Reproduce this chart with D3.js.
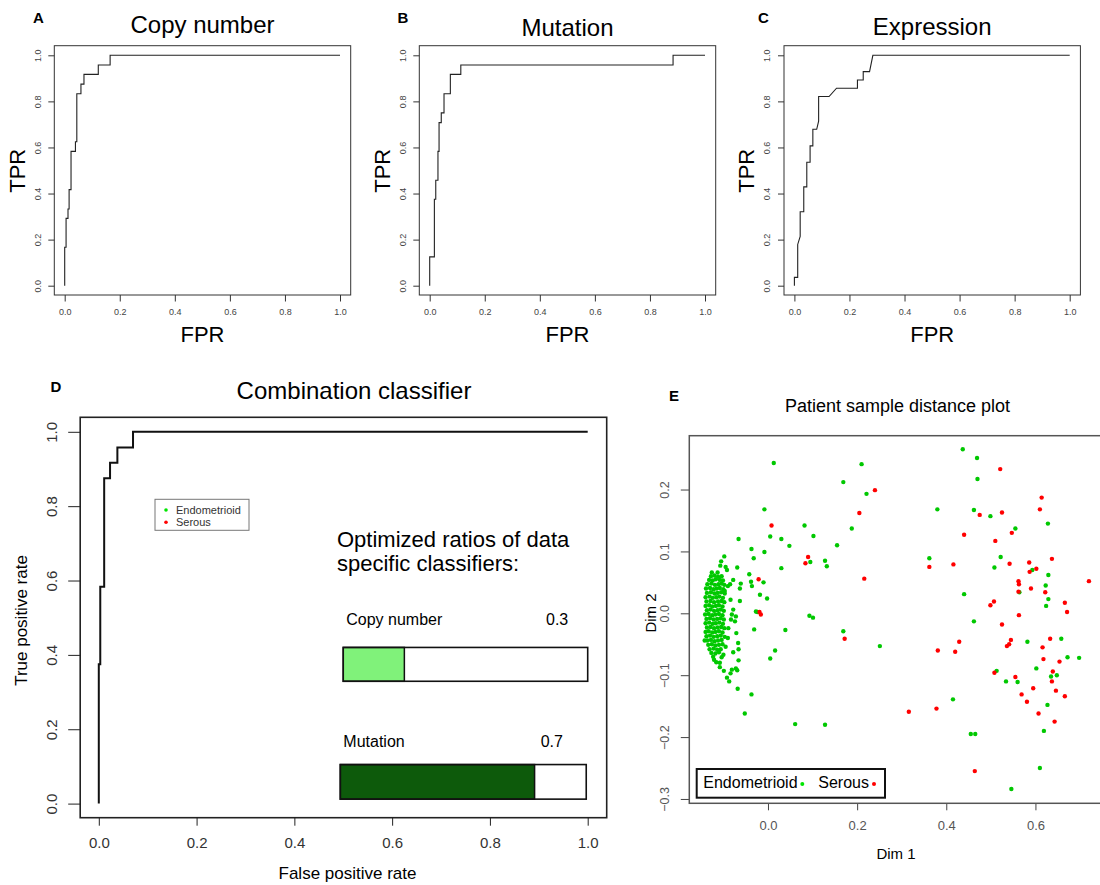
<!DOCTYPE html>
<html><head><meta charset="utf-8">
<script src="https://cdn.jsdelivr.net/npm/d3@7"></script>
<style>body{margin:0;background:#fff}svg{display:block}</style>
</head><body>
<svg id="c" width="1100" height="885"></svg>
<script>
// ---------------- DATA ----------------
const rocTicks = [0, 0.2, 0.4, 0.6, 0.8, 1.0];

// Panel A: Copy number ROC (vertices of the step curve)
const copyFPR = [0, 0, 0.005, 0.005, 0.012, 0.012, 0.016, 0.016, 0.023, 0.023, 0.039, 0.039, 0.044, 0.044, 0.059, 0.059, 0.070, 0.070, 0.122, 0.122, 0.165, 0.165, 1];
const copyTPR = [0, 0.167, 0.167, 0.292, 0.292, 0.333, 0.333, 0.417, 0.417, 0.583, 0.583, 0.625, 0.625, 0.833, 0.833, 0.875, 0.875, 0.917, 0.917, 0.958, 0.958, 1, 1];

// Panel B: Mutation ROC
const mutFPR = [0, 0, 0.017, 0.017, 0.022, 0.022, 0.030, 0.030, 0.034, 0.034, 0.042, 0.042, 0.052, 0.052, 0.075, 0.075, 0.113, 0.113, 0.884, 0.884, 1];
const mutTPR = [0, 0.125, 0.125, 0.375, 0.375, 0.458, 0.458, 0.583, 0.583, 0.708, 0.708, 0.750, 0.750, 0.833, 0.833, 0.917, 0.917, 0.958, 0.958, 1, 1];

// Panel C: Expression ROC
const expFPR = [0, 0, 0.012, 0.012, 0.021, 0.021, 0.034, 0.034, 0.045, 0.045, 0.057, 0.057, 0.067, 0.067, 0.081, 0.088, 0.088, 0.126, 0.153, 0.229, 0.229, 0.250, 0.250, 0.273, 0.285, 1];
const expTPR = [0, 0.036, 0.036, 0.179, 0.214, 0.321, 0.321, 0.429, 0.429, 0.536, 0.536, 0.607, 0.607, 0.679, 0.679, 0.714, 0.821, 0.821, 0.857, 0.857, 0.893, 0.893, 0.929, 0.929, 1, 1];

// Panel D: Combination classifier ROC
const combFPR = [0, 0, 0.003, 0.003, 0.011, 0.011, 0.023, 0.023, 0.038, 0.038, 0.070, 0.070, 1];
const combTPR = [0, 0.375, 0.375, 0.583, 0.583, 0.875, 0.875, 0.917, 0.917, 0.958, 0.958, 1, 1];

// Optimized ratios
const ratioNames = ["Copy number", "Mutation"];
const ratioLabels = ["0.3", "0.7"];
const ratioFill = [0.25, 0.79];          // filled fraction of each bar as drawn
const ratioColors = ["#80f27a", "#0d5a0b"];

// Panel E: sample distance plot
const eXTicks = [0, 0.2, 0.4, 0.6];
const eYTicks = [-0.3, -0.2, -0.1, 0, 0.1, 0.2];
const groupNames = ["Endometrioid", "Serous"];

const endoCluster = [
 [-0.128,0.060],[-0.120,0.061],[-0.112,0.059],[-0.104,0.060],
 [-0.132,0.054],[-0.124,0.053],[-0.117,0.055],[-0.108,0.054],[-0.101,0.053],
 [-0.136,0.047],[-0.127,0.048],[-0.119,0.046],[-0.111,0.047],[-0.104,0.048],[-0.098,0.046],
 [-0.139,0.040],[-0.130,0.041],[-0.122,0.039],[-0.115,0.040],[-0.108,0.041],[-0.100,0.039],
 [-0.137,0.033],[-0.128,0.034],[-0.120,0.032],[-0.113,0.033],[-0.105,0.034],[-0.097,0.032],
 [-0.140,0.026],[-0.131,0.027],[-0.124,0.025],[-0.116,0.026],[-0.109,0.027],[-0.101,0.025],
 [-0.138,0.019],[-0.129,0.020],[-0.121,0.018],[-0.112,0.019],[-0.104,0.020],[-0.098,0.018],
 [-0.140,0.012],[-0.132,0.013],[-0.125,0.011],[-0.117,0.012],[-0.110,0.013],[-0.102,0.011],
 [-0.137,0.005],[-0.129,0.006],[-0.121,0.004],[-0.113,0.005],[-0.106,0.006],[-0.099,0.004],
 [-0.141,-0.002],[-0.133,-0.001],[-0.125,-0.003],[-0.118,-0.002],[-0.110,-0.001],[-0.102,-0.003],
 [-0.138,-0.009],[-0.130,-0.008],[-0.122,-0.010],[-0.114,-0.009],[-0.106,-0.008],[-0.099,-0.010],
 [-0.140,-0.016],[-0.132,-0.015],[-0.124,-0.017],[-0.117,-0.016],[-0.109,-0.015],[-0.101,-0.017],
 [-0.137,-0.023],[-0.129,-0.022],[-0.121,-0.024],[-0.113,-0.023],[-0.105,-0.022],[-0.098,-0.024],
 [-0.140,-0.030],[-0.133,-0.029],[-0.125,-0.031],[-0.118,-0.030],[-0.110,-0.029],[-0.102,-0.031],
 [-0.138,-0.037],[-0.130,-0.036],[-0.122,-0.038],[-0.114,-0.037],[-0.106,-0.036],[-0.097,-0.038],
 [-0.136,-0.044],[-0.128,-0.043],[-0.120,-0.045],[-0.112,-0.044],[-0.104,-0.043],
 [-0.134,-0.051],[-0.126,-0.050],[-0.118,-0.052],[-0.110,-0.051],[-0.102,-0.050],
 [-0.131,-0.058],[-0.122,-0.057],[-0.114,-0.059],[-0.106,-0.058],
 [-0.127,-0.064],[-0.118,-0.065],[-0.110,-0.063]
];
const endoScatter = [
 [0.013,0.243],[0.210,0.241],[0.169,0.212],[0.221,0.193],[-0.008,0.168],[0.082,0.142],[0.188,0.137],
 [0.102,0.125],[0.005,0.124],[0.030,0.120],[-0.066,0.120],[0.048,0.109],[0.155,0.110],[-0.037,0.104],
 [-0.008,0.099],[-0.032,0.089],[-0.098,0.092],[0.128,0.085],[0.095,0.083],[0.132,0.076],[0.030,0.073],
 [-0.069,0.074],[-0.042,0.063],[-0.061,0.048],[-0.038,0.051],[-0.036,0.044],[-0.010,0.050],[-0.078,0.054],
 [-0.063,0.040],[-0.018,0.030],[-0.002,0.024],[-0.063,0.020],[-0.027,0.003],[-0.024,0.002],
 [-0.105,0.084],[-0.107,0.077],[-0.095,0.075],[-0.092,0.070],[-0.126,0.066],[-0.113,0.066],
 [-0.085,0.047],[-0.090,0.044],[-0.097,0.036],[-0.084,0.022],[-0.078,0.006],[-0.081,-0.002],
 [-0.072,-0.005],[-0.083,-0.010],[-0.074,-0.013],[-0.089,-0.024],
 [-0.142,-0.044],[-0.090,-0.040],[-0.095,-0.054],[-0.100,-0.067],[-0.123,-0.070],[-0.121,-0.075],
 [-0.116,-0.079],[-0.104,-0.071],[-0.108,-0.080],[-0.069,-0.092],
 [0.437,0.265],[0.469,0.251],[0.470,0.217],[0.380,0.168],[0.462,0.167],[0.499,0.157],[0.628,0.145],
 [0.555,0.137],[0.362,0.089],[0.522,0.091],[0.508,0.074],[0.593,0.070],[0.629,0.062],[0.623,0.045],
 [0.564,0.034],[0.440,0.031],[0.629,0.023],[0.624,0.012],
 [0.093,-0.004],[0.101,-0.007],[-0.031,-0.026],[0.039,-0.027],[0.169,-0.029],[0.016,-0.060],
 [0.005,-0.073],[0.251,-0.053],[-0.037,-0.131],[-0.052,-0.162],[0.061,-0.179],[0.128,-0.180],[-0.068,-0.122],
 [-0.071,-0.032],[-0.067,-0.048],[-0.066,-0.058],[-0.066,-0.076],[-0.078,-0.063],[-0.072,-0.089],
 [-0.081,-0.091],[-0.084,-0.097],[-0.087,-0.110],[-0.092,-0.104],[-0.099,-0.093],[-0.108,-0.087],
 [0.462,-0.013],[0.582,-0.046],[0.658,-0.041],[0.698,-0.072],[0.672,-0.071],[0.602,-0.089],[0.513,-0.093],
 [0.534,-0.110],[0.560,-0.111],[0.635,-0.102],[0.648,-0.100],[0.415,-0.139],[0.627,-0.148],[0.455,-0.195],
 [0.465,-0.195],[0.619,-0.190],[0.610,-0.250],[0.546,-0.284]
];
const serous = [
 [0.008,0.142],[0.240,0.199],[0.205,0.162],[0.090,0.091],[0.084,0.081],[-0.021,0.055],[0.216,0.056],
 [-0.019,0.002],[-0.016,-0.002],
 [0.521,0.233],[0.614,0.187],[0.610,0.168],[0.525,0.163],[0.475,0.159],[0.440,0.127],[0.547,0.130],
 [0.510,0.117],[0.637,0.088],[0.586,0.082],[0.542,0.080],[0.416,0.079],[0.362,0.075],[0.602,0.072],
 [0.587,0.067],[0.720,0.052],[0.562,0.052],[0.563,0.047],[0.590,0.040],[0.562,0.035],[0.622,0.034],
 [0.666,0.017],[0.507,0.019],[0.499,0.013],[0.671,0.002],
 [0.563,-0.003],[0.525,-0.018],[0.545,-0.043],[0.541,-0.050],[0.536,-0.053],[0.633,-0.041],[0.429,-0.046],
 [0.381,-0.060],[0.420,-0.062],[0.616,-0.055],[0.618,-0.074],[0.654,-0.078],[0.508,-0.096],[0.555,-0.103],
 [0.639,-0.094],[0.637,-0.110],[0.595,-0.121],[0.646,-0.125],[0.569,-0.131],[0.666,-0.134],[0.581,-0.143],
 [0.316,-0.159],[0.378,-0.154],[0.607,-0.162],[0.643,-0.175],[0.464,-0.255],[0.172,-0.041]
];

// ---------------- DRAWING ----------------
const FONT = '"Liberation Sans", Arial, Helvetica, sans-serif';
const svg = d3.select("#c").attr("font-family", FONT);
const fmt = d3.format(".1f");

function yAxis(scale, x, ticks, len, off, fs, col, tcol) {
  const g = svg.append("g").attr("transform", `translate(${x},0)`)
    .call(d3.axisLeft(scale).tickValues(ticks).tickSize(len).tickFormat(fmt));
  g.attr("font-family", FONT).attr("font-size", fs);
  g.select(".domain").remove();
  g.selectAll(".tick line").attr("stroke", col);
  g.selectAll(".tick text").attr("x", null).attr("dy", null).attr("fill", tcol)
    .attr("text-anchor", "middle").attr("transform", `translate(${-off},0) rotate(-90)`);
}
function xAxis(scale, y, ticks, len, off, fs, col, tcol) {
  const g = svg.append("g").attr("transform", `translate(0,${y})`)
    .call(d3.axisBottom(scale).tickValues(ticks).tickSize(len).tickFormat(fmt));
  g.attr("font-family", FONT).attr("font-size", fs);
  g.select(".domain").remove();
  g.selectAll(".tick line").attr("stroke", col);
  g.selectAll(".tick text").attr("y", off).attr("dy", "0.35em").attr("fill", tcol);
}
function text(x, y, s, fs, opts = {}) {
  const t = svg.append("text").attr("x", x).attr("y", y).attr("font-size", fs).text(s)
    .attr("fill", opts.fill || "#000").attr("text-anchor", opts.anchor || "start");
  if (opts.bold) t.attr("font-weight", "bold");
  if (opts.rot) t.attr("transform", `rotate(-90,${x},${y})`);
  return t;
}
function curve(xs, ys, fx, fy, w, col) {
  const pts = xs.map((d, i) => [d, ys[i]]);
  svg.append("path").attr("d", d3.line().x(d => fx(d[0])).y(d => fy(d[1]))(pts))
    .attr("fill", "none").attr("stroke", col).attr("stroke-width", w);
}

// ----- Panels A, B, C -----
const small = [
  {lab: "A", lx: 33, title: "Copy number", tb: 32.5, off: 0, fpr: copyFPR, tpr: copyTPR},
  {lab: "B", lx: 397.5, title: "Mutation", tb: 35.5, off: 365, fpr: mutFPR, tpr: mutTPR},
  {lab: "C", lx: 758, title: "Expression", tb: 35.3, off: 729.7, fpr: expFPR, tpr: expTPR}
];
small.forEach(p => {
  const L = 54.3 + p.off, R = 350.7 + p.off, T = 45.7, B = 295;
  const x = d3.scaleLinear().domain([0, 1]).range([64.7 + p.off, 340 + p.off]);
  const y = d3.scaleLinear().domain([0, 1]).range([285.7, 55.3]);
  svg.append("rect").attr("x", L).attr("y", T).attr("width", R - L).attr("height", B - T)
    .attr("fill", "none").attr("stroke", "#333").attr("stroke-width", 1);
  xAxis(x, B, rocTicks, 6.5, 16.7, 9, "#333", "#444");
  yAxis(y, L, rocTicks, 6, 13.8, 9, "#333", "#444");
  curve(p.fpr, p.tpr, x, y, 1.1, "#222");
  const cx = (L + R) / 2;
  text(cx, p.tb, p.title, 24, {anchor: "middle"});
  text(cx, 341.7, "FPR", 22, {anchor: "middle"});
  text(p.off + 24.6, 170.8, "TPR", 22, {anchor: "middle", rot: true});
  text(p.lx, 23, p.lab, 15, {bold: true});
});

// ----- Panel D -----
{
  const L = 80.2, R = 606.7, T = 417.3, B = 817.7;
  const x = d3.scaleLinear().domain([0, 1]).range([98.8, 587.7]);
  const y = d3.scaleLinear().domain([0, 1]).range([803.6, 431.8]);
  svg.append("rect").attr("x", L).attr("y", T).attr("width", R - L).attr("height", B - T)
    .attr("fill", "none").attr("stroke", "#222").attr("stroke-width", 1.6);
  xAxis(x, B, rocTicks, 8, 25.5, 15, "#222", "#333");
  yAxis(y, L, rocTicks, 12, 23.5, 15, "#222", "#333");
  curve(combFPR, combTPR, x, y, 2, "#111");
  text(354, 399.3, "Combination classifier", 24, {anchor: "middle"});
  text(347.5, 879, "False positive rate", 17, {anchor: "middle"});
  text(26.8, 620.5, "True positive rate", 17, {anchor: "middle", rot: true});
  text(50.5, 391.7, "D", 15, {bold: true});

  // legend (group colours)
  svg.append("rect").attr("x", 155).attr("y", 499.3).attr("width", 94).attr("height", 31)
    .attr("fill", "#fff").attr("stroke", "#777").attr("stroke-width", 1);
  groupNames.forEach((n, i) => {
    svg.append("circle").attr("cx", 166).attr("cy", 510 + i * 12.3).attr("r", 1.8)
      .attr("fill", i === 0 ? "#00e600" : "#ff0000");
    text(176, 514 + i * 12.3, n, 11, {fill: "#333"});
  });

  // optimized ratios text + bars
  text(337, 546.7, "Optimized ratios of data", 22);
  text(337, 570.5, "specific classifiers:", 22);
  const bars = [
    {x0: 0.5, x1: 1.0, y0: 0.420, y1: 0.329, nameY: 625, valX: 546},
    {x0: 0.494, x1: 0.997, y0: 0.105, y1: 0.012, nameY: 747.3, valX: 540.7}
  ];
  bars.forEach((b, i) => {
    const bx0 = x(b.x0), bx1 = x(b.x1), by0 = y(b.y0), by1 = y(b.y1);
    const fillW = d3.scaleLinear().domain([0, 1]).range([0, bx1 - bx0]);
    svg.append("rect").attr("x", bx0).attr("y", by0).attr("width", bx1 - bx0).attr("height", by1 - by0)
      .attr("fill", "#fff");
    svg.append("rect").attr("x", bx0).attr("y", by0).attr("width", fillW(ratioFill[i])).attr("height", by1 - by0)
      .attr("fill", ratioColors[i]).attr("stroke", "#111").attr("stroke-width", 1.5);
    svg.append("rect").attr("x", bx0).attr("y", by0).attr("width", bx1 - bx0).attr("height", by1 - by0)
      .attr("fill", "none").attr("stroke", "#111").attr("stroke-width", 1.6);
    text(bx0 + 3, b.nameY, ratioNames[i], 16);
    text(b.valX, b.nameY, ratioLabels[i], 16);
  });
}

// ----- Panel E -----
{
  const L = 689.3, R = 1104.3, T = 435.7, B = 803.3;
  const x = d3.scaleLinear().domain([-0.1765, 0.7545]).range([L, R]);
  const y = d3.scaleLinear().domain([-0.307, 0.287]).range([B, T]);
  xAxis(x, B, eXTicks, 7, 21.7, 13, "#444", "#555");
  yAxis(y, L, eYTicks, 8.5, 20, 12.5, "#444", "#555");
  const g = svg.append("g");
  g.selectAll("circle.e").data(endoCluster.concat(endoScatter)).join("circle")
    .attr("cx", d => x(d[0])).attr("cy", d => y(d[1])).attr("r", 2.2).attr("fill", "#00c800");
  g.selectAll("circle.s").data(serous).join("circle")
    .attr("cx", d => x(d[0])).attr("cy", d => y(d[1])).attr("r", 2.2).attr("fill", "#ff0000");
  svg.append("rect").attr("x", L).attr("y", T).attr("width", R - L).attr("height", B - T)
    .attr("fill", "none").attr("stroke", "#555").attr("stroke-width", 1.5);
  text(897.5, 412.3, "Patient sample distance plot", 18, {anchor: "middle"});
  text(896, 859, "Dim 1", 15, {anchor: "middle"});
  text(656, 613, "Dim 2", 15, {anchor: "middle", rot: true});
  text(669, 401, "E", 15, {bold: true});

  // legend
  svg.append("rect").attr("x", 696.7).attr("y", 769).attr("width", 188.3).attr("height", 28.7)
    .attr("fill", "#fff").attr("stroke", "#111").attr("stroke-width", 2);
  text(703.3, 788.3, groupNames[0], 16);
  svg.append("circle").attr("cx", 802.3).attr("cy", 784).attr("r", 2).attr("fill", "#00e600");
  text(818.3, 788.3, groupNames[1], 16);
  svg.append("circle").attr("cx", 874).attr("cy", 784).attr("r", 2).attr("fill", "#ff0000");
}
</script>
</body></html>
